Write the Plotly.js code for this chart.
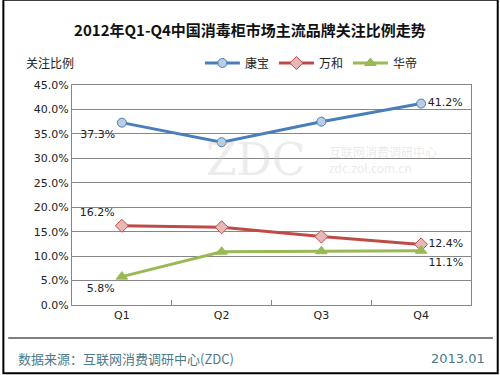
<!DOCTYPE html>
<html><head><meta charset="utf-8">
<script src="https://cdn.plot.ly/plotly-3.0.1.min.js"></script>
<style>body{margin:0;padding:0;}#c{width:500px;height:375px;}</style>
</head><body><div id="c"></div>
<script>
const quarters = ["Q1", "Q2", "Q3", "Q4"];
const kangbao = [37.3, 33.3, 37.5, 41.2];
const wanhe = [16.2, 15.9, 14.0, 12.4];
const huadi = [5.8, 10.9, 11.0, 11.1];
const kangbaoLabels = ["37.3%", "", "", "41.2%"];
const wanheLabels = ["16.2%", "", "", "12.4%"];
const huadiLabels = ["5.8%", "", "", "11.1%"];
const yTicks = [0, 5, 10, 15, 20, 25, 30, 35, 40, 45];

const font = "Century Gothic, 'DejaVu Sans', 'Noto Sans CJK SC', sans-serif";
const cjk = "'Noto Sans CJK SC', 'DejaVu Sans', sans-serif";

const traces = [
  {x: quarters, y: kangbao, name: "康宝", mode: "lines+markers+text", text: kangbaoLabels,
   textposition: ["bottom left", "top center", "top center", "middle right"],
   textfont: {size: 11, color: "#222", family: font},
   line: {color: "#4a7ebb", width: 3},
   marker: {symbol: "circle", size: 9, color: "#b9cde5", line: {color: "#4a7ebb", width: 1}}},
  {x: quarters, y: wanhe, name: "万和", mode: "lines+markers+text", text: wanheLabels,
   textposition: ["top left", "top center", "top center", "middle right"],
   textfont: {size: 11, color: "#222", family: font},
   line: {color: "#be4b48", width: 3},
   marker: {symbol: "diamond", size: 10, color: "#e6b9b8", line: {color: "#be4b48", width: 1}}},
  {x: quarters, y: huadi, name: "华帝", mode: "lines+markers+text", text: huadiLabels,
   textposition: ["bottom left", "top center", "top center", "bottom right"],
   textfont: {size: 11, color: "#222", family: font},
   line: {color: "#98b954", width: 3},
   marker: {symbol: "triangle-up", size: 10, color: "#98b954", line: {color: "#98b954", width: 1}}}
];

const layout = {
  width: 500, height: 375,
  margin: {l: 72, r: 29, t: 85, b: 70},
  paper_bgcolor: "#ffffff", plot_bgcolor: "#ffffff",
  showlegend: true,
  legend: {orientation: "h", x: 0.6, xanchor: "center", y: 1.10, yanchor: "middle",
           font: {size: 12, family: cjk, color: "#222"}, traceorder: "normal", itemwidth: 35},
  title: {text: "<b>2012年Q1-Q4中国消毒柜市场主流品牌关注比例走势</b>", x: 0.5, xanchor: "center", y: 0.918, yanchor: "middle",
          font: {size: 15, family: cjk, color: "#111"}},
  xaxis: {type: "category", range: [-0.5, 3.5], tickson: "boundaries", ticks: "inside", ticklen: 5,
          tickcolor: "#868686", showline: true, linecolor: "#868686", linewidth: 1, mirror: true,
          showgrid: false, tickfont: {size: 11, family: font, color: "#222"}, fixedrange: true},
  yaxis: {range: [0, 45], tickvals: yTicks, ticktext: yTicks.map(v => v.toFixed(1) + "%"),
          showgrid: true, gridcolor: "#868686", gridwidth: 1, showline: true, linecolor: "#868686",
          mirror: true, ticks: "", tickfont: {size: 11, family: font, color: "#222"}, zeroline: false,
          fixedrange: true},
  shapes: [
    {type: "rect", xref: "paper", yref: "paper", x0: -0.172, x1: 1.067, y0: -0.31, y1: 1.387,
     line: {color: "#000", width: 2}, fillcolor: "rgba(0,0,0,0)"},
    {type: "line", xref: "paper", yref: "paper", x0: -0.16, x1: 1.055, y0: -0.15, y1: -0.15,
     line: {color: "#000", width: 1}}
  ],
  annotations: [
    {text: "关注比例", xref: "paper", yref: "paper", x: -0.12, y: 1.10, xanchor: "left", yanchor: "middle",
     showarrow: false, font: {size: 12, family: cjk, color: "#222"}},
    {text: "ZDC", xref: "paper", yref: "paper", x: 0.33, y: 0.66, xanchor: "left", yanchor: "middle",
     showarrow: false, font: {size: 44, family: "'DejaVu Serif', serif", color: "rgba(200,200,200,0.35)"}},
    {text: "互联网消费调研中心<br>zdc.zol.com.cn", xref: "paper", yref: "paper", x: 0.64, y: 0.66, xanchor: "left", yanchor: "middle",
     align: "left", showarrow: false, font: {size: 12, family: cjk, color: "rgba(200,200,200,0.4)"}},
    {text: "数据来源：互联网消费调研中心(ZDC)", xref: "paper", yref: "paper", x: -0.14, y: -0.245, xanchor: "left", yanchor: "middle",
     showarrow: false, font: {size: 13, family: cjk, color: "#4d7a8a"}},
    {text: "2013.01", xref: "paper", yref: "paper", x: 1.04, y: -0.245, xanchor: "right", yanchor: "middle",
     showarrow: false, font: {size: 13, family: font, color: "#4d7a8a"}}
  ]
};
Plotly.newPlot("c", traces, layout, {displayModeBar: false, staticPlot: true});
</script></body></html>
